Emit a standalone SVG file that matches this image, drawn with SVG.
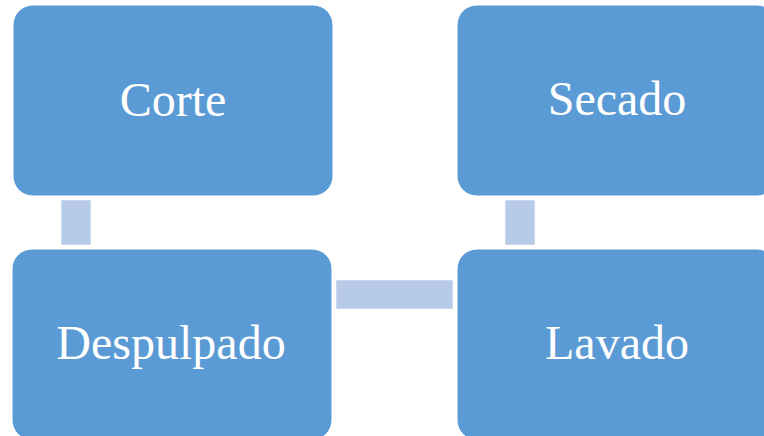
<svg xmlns="http://www.w3.org/2000/svg" width="764" height="436" viewBox="0 0 764 436">
<style>
.node{fill:#5B9BD5;stroke:#FFFFFF;stroke-width:1}
.conn{fill:#B7CBE8;stroke:#FFFFFF;stroke-width:0.5}
.lbl{font-family:"Liberation Serif","Times New Roman",serif;font-size:48px;fill:#FFFFFF;text-anchor:middle}
</style>
<rect width="764" height="436" fill="#FFFFFF"/>
<g id="connectors">
<rect class="conn" x="61" y="200" width="30" height="45"/>
<rect class="conn" x="505" y="200" width="30" height="45"/>
<rect class="conn" x="336" y="280" width="117" height="29"/>
</g>
<g id="node-corte">
<rect class="node" x="13" y="5" width="320" height="191" rx="20" ry="20"/>
<text class="lbl" x="173" y="116">Corte</text>
</g>
<g id="node-secado">
<rect class="node" x="457" y="5" width="320" height="191" rx="20" ry="20"/>
<text class="lbl" x="617" y="115">Secado</text>
</g>
<g id="node-despulpado">
<rect class="node" x="12" y="249" width="320" height="191" rx="20" ry="20"/>
<text class="lbl" x="171" y="359">Despulpado</text>
</g>
<g id="node-lavado">
<rect class="node" x="457" y="249" width="320" height="191" rx="20" ry="20"/>
<text class="lbl" x="617" y="359">Lavado</text>
</g>
</svg>
